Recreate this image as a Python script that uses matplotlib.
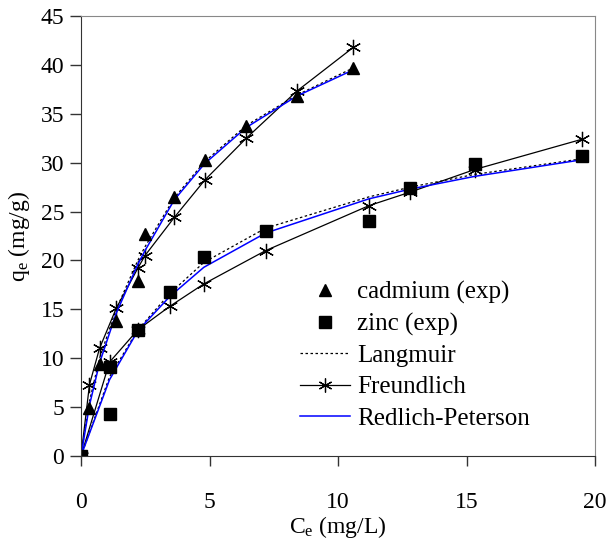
import matplotlib
matplotlib.use('Agg')
import matplotlib.pyplot as plt
from matplotlib.lines import Line2D

plt.rcParams['font.family'] = ['Liberation Serif', 'DejaVu Serif']
plt.rcParams['mathtext.fontset'] = 'custom'
plt.rcParams['mathtext.rm'] = 'Liberation Serif'

# cadmium: experimental points and model fits (same Ce values)
cd_ce = [0, 0.33, 0.72, 1.37, 2.21, 2.49, 3.63, 4.81, 6.43, 8.39, 10.6]
cd_exp = [0, 4.9, 9.4, 13.8, 17.9, 22.7, 26.5, 30.3, 33.7, 36.8, 39.7]
cd_lang = [0, 5.6, 10.0, 15.0, 20.0, 21.4, 26.4, 30.1, 33.8, 36.9, 39.7]
cd_freu = [0, 7.3, 11.0, 15.1, 19.2, 20.5, 24.4, 28.2, 32.5, 37.3, 41.8]
cd_rp = [0, 5.2, 9.5, 14.6, 19.6, 21.0, 26.2, 29.9, 33.6, 36.8, 39.5]

# zinc: experimental points
zn_ce = [0, 1.11, 1.11, 2.21, 3.45, 4.78, 7.18, 11.2, 12.82, 15.32, 19.5]
zn_exp = [0, 4.3, 9.1, 12.9, 16.8, 20.4, 23.0, 24.0, 27.4, 29.9, 30.7]
# zinc: model fits
zn_ce_fit = [0, 1.11, 2.21, 3.45, 4.78, 7.18, 11.2, 12.82, 15.32, 19.5]
zn_lang = [0, 8.1, 12.9, 16.6, 19.8, 23.3, 26.5, 27.5, 28.8, 30.4]
zn_freu = [0, 9.6, 12.9, 15.3, 17.6, 21.0, 25.6, 27.0, 29.3, 32.4]
zn_rp = [0, 7.8, 12.8, 16.3, 19.3, 22.8, 26.3, 27.3, 28.6, 30.3]

fs = 17
star = (6, 2, 0)

fig = plt.figure(figsize=(6.09, 5.50), dpi=100)
ax = fig.add_axes([81/609, 94/550, 514/609, 440/550])

for ce, lang in [(cd_ce, cd_lang), (zn_ce_fit, zn_lang)]:
    ax.plot(ce, lang, color='black', lw=0.9, ls=(0, (2, 2)))
for ce, freu in [(cd_ce, cd_freu), (zn_ce_fit, zn_freu)]:
    ax.plot(ce, freu, color='black', lw=0.9, marker=star, ms=11, mew=0.9)
for ce, rp in [(cd_ce, cd_rp), (zn_ce_fit, zn_rp)]:
    ax.plot(ce, rp, color='#0000ff', lw=1.1)

ax.plot(cd_ce, cd_exp, ls='none', marker='^', ms=9, color='black')
ax.plot(zn_ce, zn_exp, ls='none', marker='s', ms=8, color='black')

ax.set_xlim(0, 20)
ax.set_ylim(0, 45)
ax.set_xticks([0, 5, 10, 15, 20])
ax.set_yticks(range(0, 50, 5))
ax.tick_params(axis='x', direction='out', length=7, width=1, pad=19, labelsize=fs, color='#333333')
ax.tick_params(axis='y', direction='out', length=8, width=1, pad=4, labelsize=fs, color='#333333')
for s in ['left', 'bottom']:
    ax.spines[s].set_color('#333333')
for s in ['top', 'right']:
    ax.spines[s].set_color('#888888')

ax.set_xlabel(r'$\mathregular{C_e}$ (mg/L)', fontsize=fs, labelpad=1)
ax.set_ylabel(r'$\mathregular{q_e}$ (mg/g)', fontsize=fs, labelpad=6)

handles = [
    Line2D([], [], ls='none', marker='^', ms=9, color='black'),
    Line2D([], [], ls='none', marker='s', ms=8, color='black'),
    Line2D([], [], color='black', lw=0.9, ls=(0, (2, 2))),
    Line2D([], [], color='black', lw=0.9, marker=star, ms=10, mew=0.9),
    Line2D([], [], color='#0000ff', lw=1.1),
]
labels = ['cadmium (exp)', 'zinc (exp)', 'Langmuir', 'Freundlich', 'Redlich-Peterson']
ax.legend(handles, labels, frameon=False, fontsize=18, loc='upper left',
          bbox_to_anchor=(300/609, 1 - 281/550), bbox_transform=fig.transFigure,
          handlelength=2.0, handletextpad=0.28, labelspacing=0.35, borderpad=0,
          borderaxespad=0)

fig.savefig('out.png', dpi=100)
